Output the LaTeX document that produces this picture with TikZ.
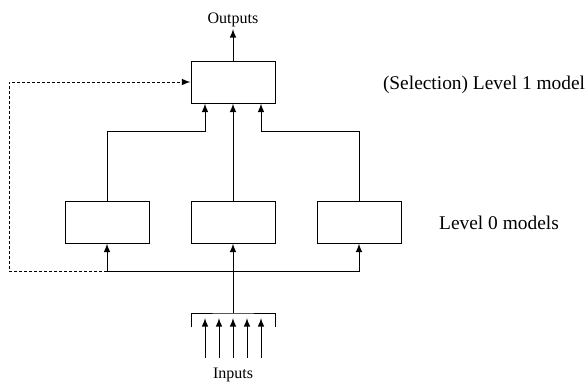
\documentclass[tikz,border=0pt]{standalone}
\usepackage{fontspec}
\setmainfont{Liberation Serif}

\tikzstyle{model}=[draw, line width=0.5pt, minimum width=42pt, minimum height=21pt, inner sep=0pt]
\tikzstyle{flow}=[-latex, line width=0.5pt]
\tikzstyle{fbk}=[-latex, line width=0.5pt, dashed, dash pattern=on 1.5pt off 1pt]
\tikzstyle{tag}=[font=\footnotesize, inner sep=1pt]
\tikzstyle{side}=[font=\fontsize{9.7}{11}\selectfont, inner sep=1pt]

\begin{document}
\begin{tikzpicture}[x=0.5pt, y=-0.5pt]
    \useasboundingbox (0,0) rectangle (588,386);
    \node[model] (meta) at (233, 82) {};
    \node[model] (base1) at (107, 222) {};
    \node[model] (base2) at (233, 222) {};
    \node[model] (base3) at (359, 222) {};
    \node[tag, anchor=south] (out) at (233, 29) {Outputs};
    \node[tag, anchor=north] (inp) at (233, 366) {Inputs};
    \node[side] (lvl1) at (484, 85) {(Selection) Level 1 model};
    \node[side] (lvl0) at (499, 223) {Level 0 models};
    \coordinate (split) at (233, 271);
    \coordinate (tap) at (107, 271);
    \coordinate (loop) at (9, 82);
    \coordinate (bus) at (233, 313);
    \draw[flow] (meta.north) -- (out.south);
    \draw[flow] (base1.north) |- ([xshift=-14pt, yshift=-14pt]meta.south) -- ([xshift=-14pt]meta.south);
    \draw[flow] (base2.north) -- (meta.south);
    \draw[flow] (base3.north) |- ([xshift=14pt, yshift=-14pt]meta.south) -- ([xshift=14pt]meta.south);
    \draw[flow] (split) -| (base1.south);
    \draw[flow] (split) -- (base2.south);
    \draw[flow] (split) -| (base3.south);
    \draw[line width=0.5pt] (bus) -- (split);
    \draw[fbk] (tap) -| (loop) -- (meta.west);
    \draw[line width=0.5pt] ([xshift=-21pt, yshift=-7pt]bus) |- (bus) -| ([xshift=21pt, yshift=-7pt]bus);
    \foreach \x in {205, 219, 233, 247, 261}
        \draw[flow] (\x, 358) -- (\x, 318);
\end{tikzpicture}
\end{document}
